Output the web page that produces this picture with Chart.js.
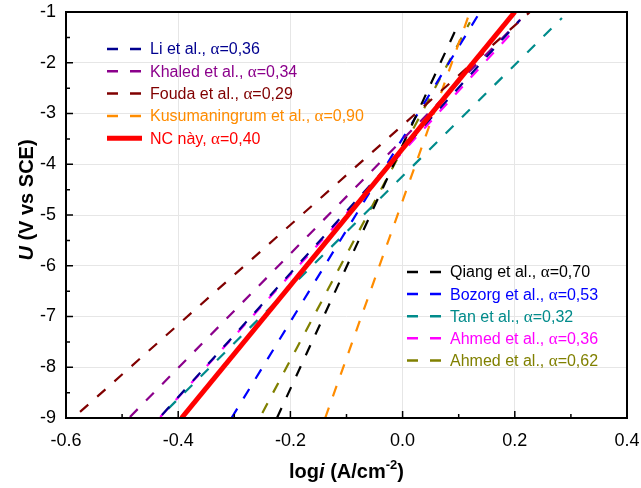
<!DOCTYPE html>
<html lang="vi">
<head>
  <meta charset="UTF-8">
  <title>Tafel slopes</title>
  <script src="https://cdn.jsdelivr.net/npm/chart.js"></script>
  <style>
    html, body { margin: 0; padding: 0; background: #fff; }
    #wrap { width: 641px; height: 488px; }
  </style>
</head>
<body>
  <div id="wrap"><canvas id="tafelChart" width="641" height="488"></canvas></div>

  <script>
    // series, in legend order
    const names  = ['Li et al.', 'Khaled et al.', 'Fouda et al.', 'Kusumaningrum et al.', 'NC này',
                    'Qiang et al.', 'Bozorg et al.', 'Tan et al.', 'Ahmed et al.', 'Ahmed et al.'];
    const alphas = ['0,36', '0,34', '0,29', '0,90', '0,40', '0,70', '0,53', '0,32', '0,36', '0,62'];

    // line end points (logi, U)
    const xFrom = [-0.429, -0.486, -0.575, -0.138, -0.394, -0.224, -0.305, -0.418, -0.432, -0.250];
    const yFrom = [-8.94, -8.98, -8.88, -9.00, -9.00, -9.00, -9.00, -8.82, -8.98, -8.90];
    const xTo   = [0.209, 0.210, 0.227, 0.120, 0.200, 0.100, 0.138, 0.284, 0.202, 0.120];
    const yTo   = [-1.16, -1.15, -1.00, -1.00, -1.00, -1.22, -1.00, -1.12, -1.32, -1.20];

    const xTicks = [-0.6, -0.4, -0.2, 0.0, 0.2, 0.4];
    const yTicks = [-1, -2, -3, -4, -5, -6, -7, -8, -9];

    const colors = ['#00008f', '#8b008b', '#800000', '#ff8c00', '#ff0000',
                    '#000000', '#0000ff', '#008b8b', '#ff00ff', '#808000'];
    const solid = 4; // index of "NC này"

    const SANS = "'Liberation Sans', Arial, sans-serif";
    const SERIF = "'Liberation Serif', 'Times New Roman', serif";

    const datasets = names.map((n, i) => ({
      label: n + ', α=' + alphas[i],
      data: [{ x: xFrom[i], y: yFrom[i] }, { x: xTo[i], y: yTo[i] }],
      borderColor: colors[i],
      borderWidth: i === solid ? 5 : 2.2,
      borderDash: i === solid ? [] : [11, 12],
      pointRadius: 0,
      tension: 0,
      fill: false,
      order: i === solid ? 0 : 1
    }));

    function drawRuns(ctx, runs, x, y, align) {
      let total = 0;
      runs.forEach(r => { ctx.font = r.font; r.w = ctx.measureText(r.text).width; total += r.w; });
      let cx = align === 'center' ? x - total / 2 : x;
      runs.forEach(r => {
        ctx.font = r.font;
        ctx.fillText(r.text, cx, y + (r.dy || 0));
        cx += r.w;
      });
    }

    // two legend boxes inside the plot
    function drawLegend(ctx, idxs, sx, y0, step) {
      idxs.forEach((i, k) => {
        const y = y0 + k * step;
        ctx.save();
        ctx.strokeStyle = colors[i];
        ctx.lineWidth = i === solid ? 5 : 2.5;
        ctx.setLineDash(i === solid ? [] : [11, 12]);
        ctx.beginPath();
        ctx.moveTo(sx, y);
        ctx.lineTo(sx + 35, y);
        ctx.stroke();
        ctx.restore();
        ctx.fillStyle = colors[i];
        ctx.textBaseline = 'middle';
        ctx.textAlign = 'left';
        drawRuns(ctx, [
          { text: names[i] + ', ', font: '16px ' + SANS },
          { text: 'α', font: '17px ' + SERIF },
          { text: '=' + alphas[i], font: '16px ' + SANS }
        ], sx + 43, y + 1, 'left');
      });
    }

    const decorPlugin = {
      id: 'decor',
      beforeDraw(chart) {
        const ctx = chart.ctx;
        ctx.save();
        ctx.fillStyle = '#fff';
        ctx.fillRect(0, 0, chart.width, chart.height);
        ctx.restore();
      },
      afterDraw(chart) {
        const ctx = chart.ctx;
        const a = chart.chartArea;
        const xs = chart.scales.x, ys = chart.scales.y;
        ctx.save();
        // inward ticks
        ctx.strokeStyle = '#000';
        ctx.lineWidth = 1.5;
        ctx.beginPath();
        for (let v = -6; v <= 4; v++) {
          const px = xs.getPixelForValue(v / 10);
          const len = (v % 2 === 0) ? 7 : 4;
          ctx.moveTo(px, a.bottom);
          ctx.lineTo(px, a.bottom - len);
        }
        for (let v = -18; v <= -2; v++) {
          const py = ys.getPixelForValue(v / 2);
          const len = (v % 2 === 0) ? 7 : 4;
          ctx.moveTo(a.left, py);
          ctx.lineTo(a.left + len, py);
        }
        ctx.stroke();
        // frame
        ctx.lineWidth = 2;
        ctx.strokeRect(a.left, a.top, a.right - a.left, a.bottom - a.top);

        // legends
        drawLegend(ctx, [0, 1, 2, 3, 4], 107, 49, 22.3);
        drawLegend(ctx, [5, 6, 7, 8, 9], 407, 272, 22.1);

        // axis titles
        ctx.fillStyle = '#000';
        ctx.textBaseline = 'middle';
        const cx = (a.left + a.right) / 2;
        drawRuns(ctx, [
          { text: 'log', font: 'bold 20px ' + SANS },
          { text: 'i', font: 'italic bold 20px ' + SANS },
          { text: ' (A/cm', font: 'bold 20px ' + SANS },
          { text: '-2', font: 'bold 13px ' + SANS, dy: -7 },
          { text: ')', font: 'bold 20px ' + SANS }
        ], cx, 472, 'center');

        ctx.translate(27, 200);
        ctx.rotate(-Math.PI / 2);
        drawRuns(ctx, [
          { text: 'U', font: 'italic bold 20px ' + SANS },
          { text: ' (V vs SCE)', font: 'bold 20px ' + SANS }
        ], 0, 0, 'center');
        ctx.restore();
      }
    };

    new Chart(document.getElementById('tafelChart'), {
      type: 'line',
      data: { datasets: datasets },
      options: {
        responsive: false,
        animation: false,
        layout: { padding: { left: 0, right: 14, top: 12, bottom: 0 } },
        plugins: {
          legend: { display: false },
          tooltip: { enabled: false }
        },
        scales: {
          x: {
            type: 'linear',
            min: -0.6,
            max: 0.4,
            afterFit: s => { s.height = 70; s.paddingLeft = 0; s.paddingRight = 0; },
            afterBuildTicks: s => { s.ticks = xTicks.map(v => ({ value: v })); },
            grid: { color: '#e6e6e6', lineWidth: 1, drawTicks: false },
            border: { display: false },
            ticks: {
              padding: 12,
              color: '#000',
              font: { family: SANS, size: 18 },
              callback: v => (Math.abs(v) < 1e-9 ? 0 : v).toFixed(1)
            }
          },
          y: {
            type: 'linear',
            min: -9,
            max: -1,
            afterFit: s => { s.width = 66; s.paddingTop = 0; s.paddingBottom = 0; },
            afterBuildTicks: s => { s.ticks = yTicks.map(v => ({ value: v })); },
            grid: { color: '#e6e6e6', lineWidth: 1, drawTicks: false },
            border: { display: false },
            ticks: {
              padding: 10,
              color: '#000',
              font: { family: SANS, size: 18 },
              callback: v => String(v)
            }
          }
        }
      },
      plugins: [decorPlugin]
    });
  </script>
</body>
</html>
